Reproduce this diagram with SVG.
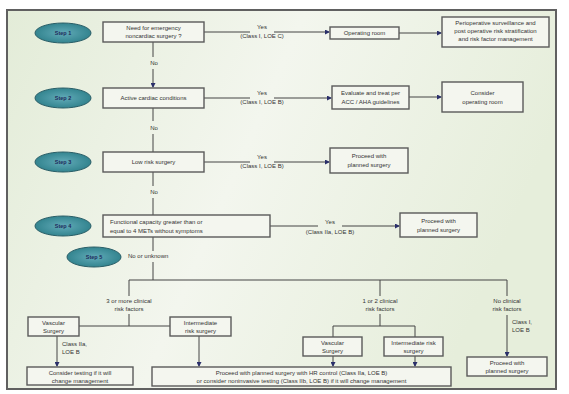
<svg xmlns="http://www.w3.org/2000/svg" width="569" height="394" viewBox="0 0 569 394">
<defs>
<linearGradient id="bg" x1="0" y1="0" x2="1" y2="0.3">
<stop offset="0" stop-color="#e3ecd8"/>
<stop offset="0.5" stop-color="#f3f6ee"/>
<stop offset="1" stop-color="#e6eedb"/>
</linearGradient>
<radialGradient id="ell" cx="0.5" cy="0.5" r="0.5">
<stop offset="0" stop-color="#62abb8"/>
<stop offset="1" stop-color="#33848f"/>
</radialGradient>
<marker id="ah" markerWidth="5" markerHeight="5" refX="4" refY="2.5" orient="auto" markerUnits="userSpaceOnUse">
<path d="M0,0 L5,2.5 L0,5 Z" fill="#2a2f6a"/>
</marker>
<style>
.box{fill:#f4f6ef;stroke:#5a5a5a;stroke-width:1.4}
.stp{fill:url(#ell);stroke:#2b5f68;stroke-width:1}
.st{font-family:"Liberation Sans",Arial,sans-serif;font-size:5.5px;fill:#1d2a5a;text-anchor:middle;font-weight:bold}
.t{font-family:"Liberation Sans",Arial,sans-serif;font-size:6px;fill:#333;text-anchor:middle}
.tl{font-family:"Liberation Sans",Arial,sans-serif;font-size:6px;fill:#333}
.ln{fill:none;stroke:#444;stroke-width:1}
.ar{fill:none;stroke:#444;stroke-width:1;marker-end:url(#ah)}
</style>
</defs>
<rect x="0" y="0" width="569" height="394" fill="#ffffff"/>
<rect x="7" y="10" width="549" height="379" fill="url(#bg)" stroke="#606060" stroke-width="2"/>

<g id="connectors">
<path class="ln" d="M204,32 H250"/>
<path class="ar" d="M274,32 H329"/>
<path class="ar" d="M399,33 H441"/>
<path class="ln" d="M153,42 V57"/>
<path class="ar" d="M153,69 V87"/>
<path class="ln" d="M204,98 H250"/>
<path class="ar" d="M274,98 H331"/>
<path class="ar" d="M409,97 H441"/>
<path class="ln" d="M153,108 V121"/>
<path class="ln" d="M153,134 V152"/>
<path class="ln" d="M204,162 H250"/>
<path class="ar" d="M274,162 H329"/>
<path class="ln" d="M153,172 V186"/>
<path class="ln" d="M153,198 V215"/>
<path class="ln" d="M270,226 H318"/>
<path class="ar" d="M342,226 H399"/>
<path class="ln" d="M153,237 V251"/>
<path class="ln" d="M153,262 V280 M129,280 H507 M129,280 V296 M380,280 V296 M507,280 V296"/>
<path class="ln" d="M129,314 V326 M79,326 H170"/>
<path class="ar" d="M57,336 V366"/>
<path class="ar" d="M199,336 V366"/>
<path class="ln" d="M380,314 V326 M333,326 H415 M333,326 V337 M415,326 V337"/>
<path class="ar" d="M333,356 V366"/>
<path class="ar" d="M415,356 V366"/>
<path class="ar" d="M507,315 V356"/>
</g>

<g id="labels">
<text class="t" x="262" y="29">Yes</text>
<text class="t" x="262" y="38">(Class I, LOE C)</text>
<text class="t" x="154" y="65">No</text>
<text class="t" x="262" y="95">Yes</text>
<text class="t" x="262" y="104">(Class I, LOE B)</text>
<text class="t" x="154" y="130">No</text>
<text class="t" x="262" y="159">Yes</text>
<text class="t" x="262" y="168">(Class I, LOE B)</text>
<text class="t" x="154" y="194">No</text>
<text class="t" x="330" y="224">Yes</text>
<text class="t" x="330" y="234">(Class IIa, LOE B)</text>
<text class="tl" x="128" y="258">No or unknown</text>
<text class="t" x="129" y="303">3 or more clinical</text>
<text class="t" x="129" y="311">risk factors</text>
<text class="t" x="380" y="303">1 or 2 clinical</text>
<text class="t" x="380" y="311">risk factors</text>
<text class="t" x="507" y="303">No clinical</text>
<text class="t" x="507" y="311">risk factors</text>
<text class="tl" x="62" y="346">Class IIa,</text>
<text class="tl" x="62" y="354">LOE B</text>
<text class="tl" x="512" y="324">Class I,</text>
<text class="tl" x="512" y="332">LOE B</text>
</g>

<g id="step1"><ellipse class="stp" cx="63" cy="33" rx="28" ry="10"/><text class="st" x="63" y="35">Step 1</text></g>
<g id="step2"><ellipse class="stp" cx="63" cy="98" rx="28" ry="10"/><text class="st" x="63" y="100">Step 2</text></g>
<g id="step3"><ellipse class="stp" cx="63" cy="162" rx="28" ry="10"/><text class="st" x="63" y="164">Step 3</text></g>
<g id="step4"><ellipse class="stp" cx="63" cy="226" rx="28" ry="10"/><text class="st" x="63" y="228">Step 4</text></g>
<g id="step5"><ellipse class="stp" cx="94" cy="257" rx="27" ry="10"/><text class="st" x="94" y="259">Step 5</text></g>

<g id="emergency"><rect class="box" x="103" y="22" width="101" height="20"/><text class="t" x="153.5" y="30">Need for emergency</text><text class="t" x="153.5" y="38">noncardiac surgery ?</text></g>
<g id="or1"><rect class="box" x="330" y="27" width="69" height="12"/><text class="t" x="364.5" y="35">Operating room</text></g>
<g id="periop"><rect class="box" x="442" y="17" width="107" height="30"/><text class="t" x="495.5" y="25">Perioperative surveillance and</text><text class="t" x="495.5" y="33">post operative risk stratification</text><text class="t" x="495.5" y="41">and risk factor management</text></g>

<g id="active"><rect class="box" x="103" y="88" width="101" height="20"/><text class="t" x="153.5" y="100">Active cardiac conditions</text></g>
<g id="evaluate"><rect class="box" x="332" y="86" width="77" height="23"/><text class="t" x="370.5" y="95">Evaluate and treat per</text><text class="t" x="370.5" y="104">ACC / AHA guidelines</text></g>
<g id="consider-or"><rect class="box" x="442" y="82" width="81" height="30"/><text class="t" x="482.5" y="95">Consider</text><text class="t" x="482.5" y="104">operating room</text></g>

<g id="lowrisk"><rect class="box" x="103" y="152" width="101" height="20"/><text class="t" x="153.5" y="164">Low risk surgery</text></g>
<g id="proceed1"><rect class="box" x="330" y="148" width="78" height="25"/><text class="t" x="369" y="158">Proceed with</text><text class="t" x="369" y="167">planned surgery</text></g>

<g id="functional"><rect class="box" x="103" y="215" width="167" height="22"/><text class="tl" x="110" y="224">Functional capacity greater than or</text><text class="tl" x="110" y="233">equal to 4 METs without symptoms</text></g>
<g id="proceed2"><rect class="box" x="400" y="213" width="77" height="24"/><text class="t" x="438.5" y="223">Proceed with</text><text class="t" x="438.5" y="232">planned surgery</text></g>

<g id="vasc1"><rect class="box" x="28" y="317" width="51" height="19"/><text class="t" x="53.5" y="325">Vascular</text><text class="t" x="53.5" y="333">Surgery</text></g>
<g id="inter1"><rect class="box" x="170" y="317" width="61" height="19"/><text class="t" x="200.5" y="325">Intermediate</text><text class="t" x="200.5" y="333">risk surgery</text></g>
<g id="testing"><rect class="box" x="27" y="367" width="106" height="18"/><text class="t" x="80" y="375">Consider testing if it will</text><text class="t" x="80" y="383">change management</text></g>
<g id="hrcontrol"><rect class="box" x="152" y="367" width="299" height="19"/><text class="t" x="301.5" y="375">Proceed with planned surgery with HR control (Class IIa, LOE B)</text><text class="t" x="301.5" y="383">or consider noninvasive testing (Class IIb, LOE B) if it will change management</text></g>

<g id="vasc2"><rect class="box" x="303" y="337" width="59" height="19"/><text class="t" x="332.5" y="345">Vascular</text><text class="t" x="332.5" y="353">Surgery</text></g>
<g id="inter2"><rect class="box" x="384" y="337" width="59" height="19"/><text class="t" x="413.5" y="345">Intermediate risk</text><text class="t" x="413.5" y="353">surgery</text></g>
<g id="proceed3"><rect class="box" x="467" y="357" width="80" height="19"/><text class="t" x="507" y="365">Proceed with</text><text class="t" x="507" y="373">planned surgery</text></g>
</svg>
